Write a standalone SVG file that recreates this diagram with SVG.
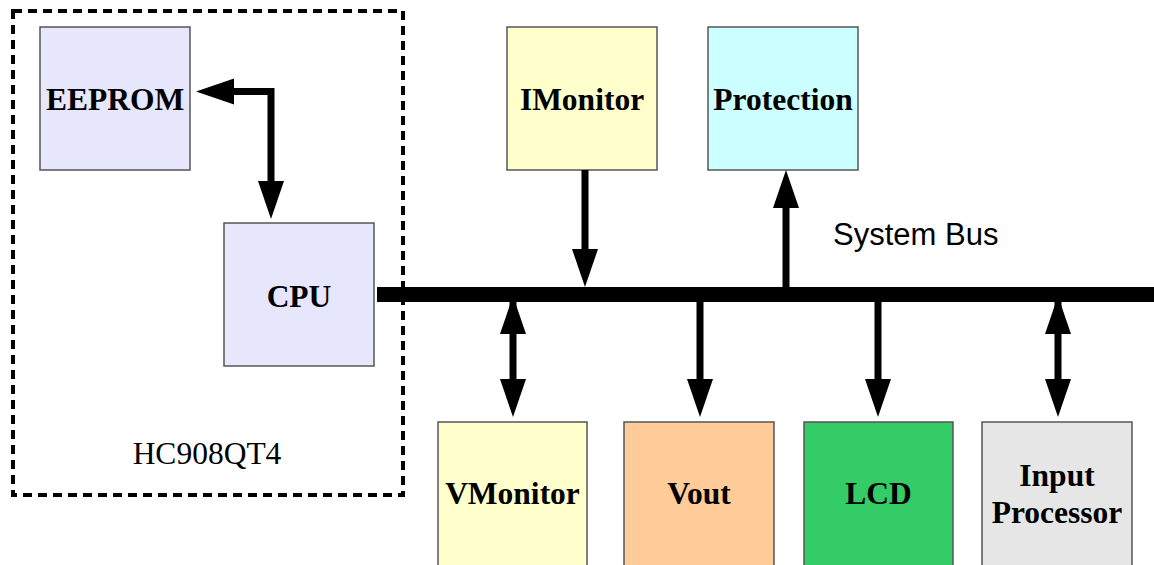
<svg xmlns="http://www.w3.org/2000/svg" xmlns:xlink="http://www.w3.org/1999/xlink" width="1154" height="565" viewBox="0 0 1154 565">
<style>
.box{stroke:#555;stroke-width:1.5}
.lbl{font-family:"Liberation Serif","Times New Roman",serif;font-weight:bold;font-size:31.5px;fill:#000;text-anchor:middle}
.ln{fill:none;stroke:#000;stroke-width:7}
.ah{fill:#000}
</style>
<defs>
<path id="ah" d="M0,0 L-13,-38 L13,-38 Z"/>
</defs>
<rect width="1154" height="565" fill="#fff"/>
<g id="chip">
<rect x="13" y="11" width="390" height="484" fill="none" stroke="#000" stroke-width="4" stroke-dasharray="9 6"/>
<text x="207" y="464" font-family="'Liberation Serif','Times New Roman',serif" font-size="31.5" text-anchor="middle">HC908QT4</text>
</g>
<g id="eeprom"><rect class="box" x="40" y="27" width="150" height="143" fill="#e6e6fc"/><text class="lbl" x="115" y="110">EEPROM</text></g>
<g id="cpu"><rect class="box" x="224" y="223" width="150" height="143" fill="#e6e6fc"/><text class="lbl" x="299" y="307">CPU</text></g>
<g id="imonitor"><rect class="box" x="507" y="27" width="150" height="143" fill="#ffffcc"/><text class="lbl" x="582" y="110">IMonitor</text></g>
<g id="protection"><rect class="box" x="708" y="27" width="150" height="143" fill="#ccffff"/><text class="lbl" x="783" y="110">Protection</text></g>
<g id="vmonitor"><rect class="box" x="438" y="422" width="149" height="145" fill="#ffffcc"/><text class="lbl" x="512.5" y="504">VMonitor</text></g>
<g id="vout"><rect class="box" x="624" y="422" width="150" height="145" fill="#ffcc99"/><text class="lbl" x="699" y="504">Vout</text></g>
<g id="lcd"><rect class="box" x="804" y="422" width="149" height="145" fill="#33cc66"/><text class="lbl" x="878.5" y="504">LCD</text></g>
<g id="input"><rect class="box" x="982" y="422" width="150" height="145" fill="#e6e6e6"/><text class="lbl" x="1057" y="486">Input</text><text class="lbl" x="1057" y="523">Processor</text></g>
<g id="connectors">
<path class="ln" d="M232,91.5 H271 V184"/>
<use xlink:href="#ah" class="ah" transform="translate(196,91.5) rotate(90)"/>
<use xlink:href="#ah" class="ah" transform="translate(271,219)"/>
<line class="ln" x1="585" y1="170" x2="585" y2="252"/>
<use xlink:href="#ah" class="ah" transform="translate(585,287)"/>
<line class="ln" x1="786" y1="207" x2="786" y2="290"/>
<use xlink:href="#ah" class="ah" transform="translate(786,170) rotate(180)"/>
<line class="ln" x1="513" y1="300" x2="513" y2="382"/>
<use xlink:href="#ah" class="ah" transform="translate(513,296) rotate(180)"/>
<use xlink:href="#ah" class="ah" transform="translate(513,417)"/>
<line class="ln" x1="700" y1="298" x2="700" y2="382"/>
<use xlink:href="#ah" class="ah" transform="translate(700,417)"/>
<line class="ln" x1="878" y1="298" x2="878" y2="382"/>
<use xlink:href="#ah" class="ah" transform="translate(878,417)"/>
<line class="ln" x1="1058" y1="300" x2="1058" y2="382"/>
<use xlink:href="#ah" class="ah" transform="translate(1058,296) rotate(180)"/>
<use xlink:href="#ah" class="ah" transform="translate(1058,417)"/>
<line id="bus" x1="377" y1="294.5" x2="1154" y2="294.5" stroke="#000" stroke-width="15"/>
<text x="833" y="245" font-family="'Liberation Sans',Arial,sans-serif" font-size="31">System Bus</text>
</g>
</svg>
